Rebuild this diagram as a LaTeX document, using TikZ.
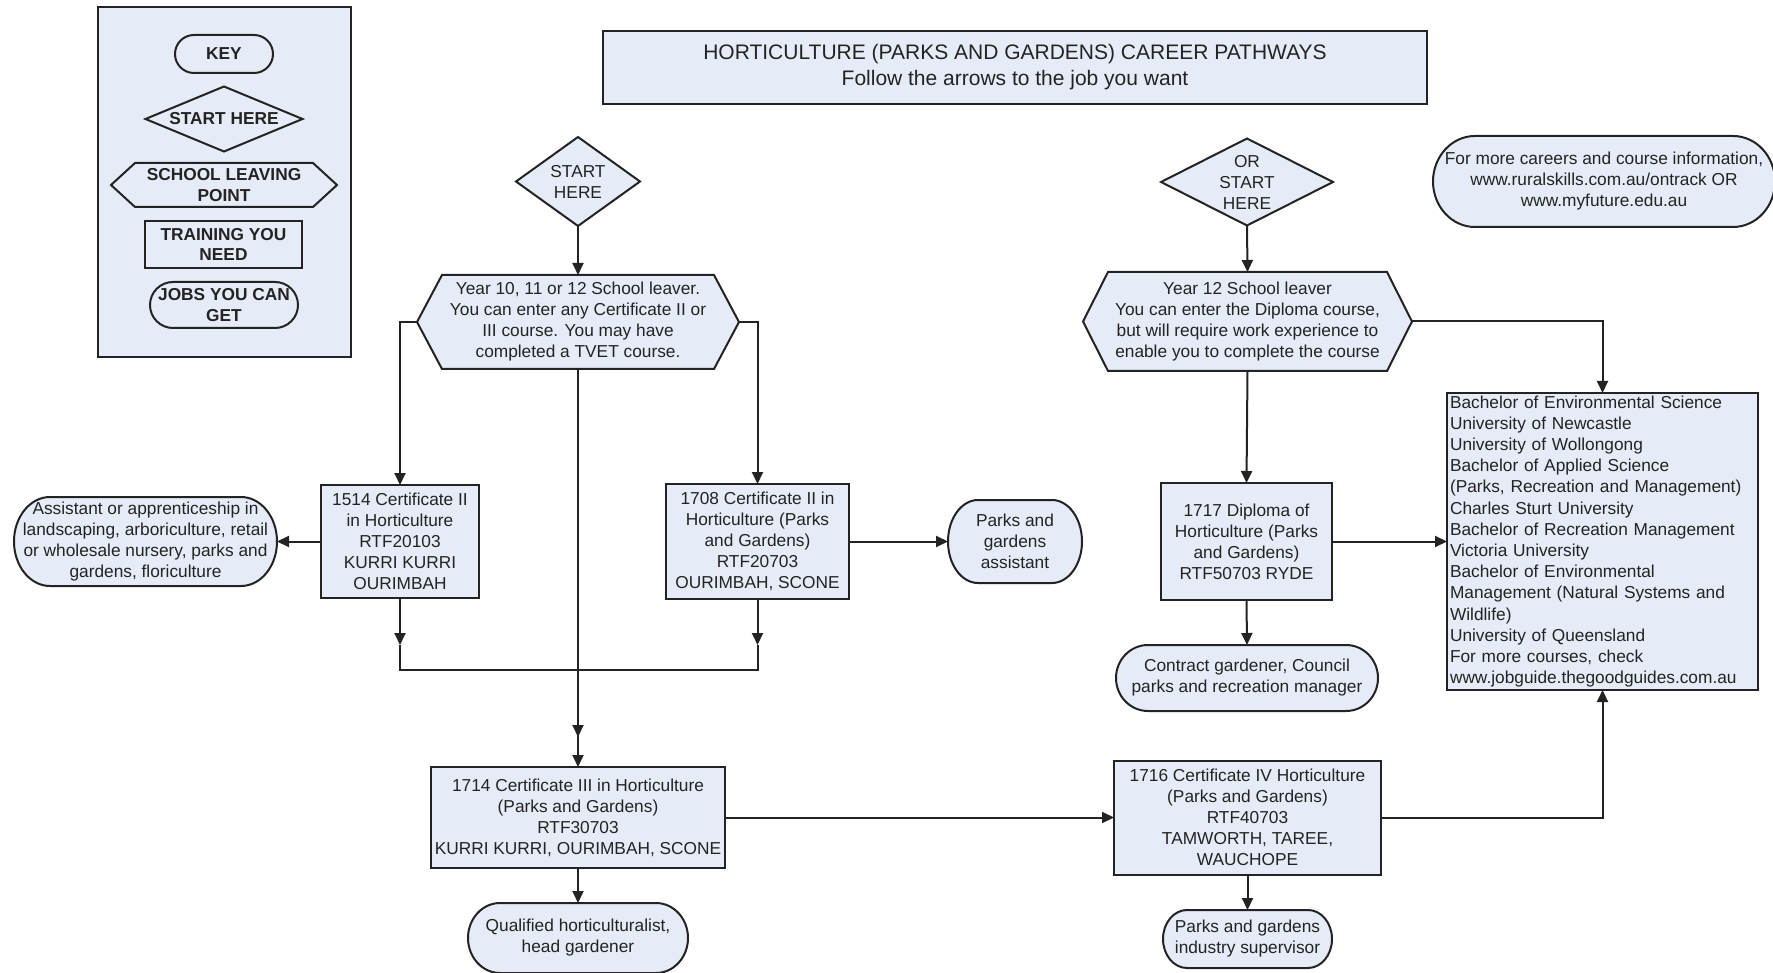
\documentclass[tikz,border=0pt]{standalone}
\usepackage{fontspec}
\setmainfont{Liberation Sans}
\usetikzlibrary{arrows.meta,backgrounds,calc}
\definecolor{boxfill}{RGB}{229,236,247}
\definecolor{ink}{RGB}{35,35,35}
\newcommand\rectshape[1]{\path[shapeline] (#1.north west) rectangle (#1.south east);}
\newcommand\hexshape[2]{\path[shapeline] ([xshift=#2]#1.north west) -- ([xshift=-#2]#1.north east) -- (#1.east) -- ([xshift=-#2]#1.south east) -- ([xshift=#2]#1.south west) -- (#1.west) -- cycle;}
\newcommand\diashape[1]{\path[shapeline] (#1.north) -- (#1.east) -- (#1.south) -- (#1.west) -- cycle;}
\newcommand\termshape[3]{\path[shapeline] ([xshift=#2]#1.north west) -- ([xshift=-#2]#1.north east) arc[start angle=90,end angle=-90,x radius=#2,y radius=#3] -- ([xshift=#2]#1.south west) arc[start angle=270,end angle=90,x radius=#2,y radius=#3] -- cycle;}
\begin{document}
\begin{tikzpicture}[x=1pt,y=-1pt,
  txt/.style={align=center, inner sep=0pt, outer sep=0pt, text=ink, font=\fontsize{17.3}{21}\selectfont},
  keytxt/.style={txt, font=\fontsize{17.3}{20.5}\selectfont\bfseries},
  shapeline/.style={fill=boxfill, draw=ink, line width=2pt, line join=miter},
  conn/.style={draw=ink, line width=2pt},
  arr/.style={conn, -{Triangle[length=12pt,width=11pt]}}
]
\useasboundingbox (0,0) rectangle (1773,973);

% key
\node[txt, minimum width=253, minimum height=350] (keybox) at (224.5,182) {};
\node[keytxt, minimum width=98, minimum height=38] (key) at (224,54) {KEY};
\node[keytxt, minimum width=157, minimum height=65] (keystart) at (224,119) {START HERE};
\node[keytxt, minimum width=226, minimum height=44] (keyschool) at (224,185) {SCHOOL LEAVING\\POINT};
\node[keytxt, minimum width=157, minimum height=47] (keytrain) at (223.5,244.5) {TRAINING YOU\\NEED};
\node[keytxt, minimum width=148, minimum height=46] (keyjobs) at (224,305) {JOBS YOU CAN\\GET};

% title
\node[txt, font=\fontsize{21}{26}\selectfont, minimum width=824, minimum height=73] (title) at (1015,67.5) {HORTICULTURE (PARKS AND GARDENS) CAREER PATHWAYS\\Follow the arrows to the job you want};

% left pathway
\node[txt, minimum width=124, minimum height=89] (start1) at (578,181.5) {START\\HERE};
\node[txt, minimum width=322, minimum height=94] (hex1) at (578,322) {Year 10, 11 or 12 School leaver.\\You can enter any Certificate II or\\III course. You may have\\completed a TVET course.};
\node[txt, minimum width=158, minimum height=113] (c1514) at (400,541.5) {1514 Certificate II\\in Horticulture\\RTF20103\\KURRI KURRI\\OURIMBAH};
\node[txt, minimum width=183, minimum height=115] (c1708) at (757.5,541.5) {1708 Certificate II in\\Horticulture (Parks\\and Gardens)\\RTF20703\\OURIMBAH, SCONE};
\node[txt, minimum width=263, minimum height=89] (assist) at (145.5,541.5) {Assistant or apprenticeship in\\landscaping, arboriculture, retail\\or wholesale nursery, parks and\\gardens, floriculture};
\node[txt, minimum width=134, minimum height=83] (pga) at (1015,541.5) {Parks and\\gardens\\assistant};
\node[txt, minimum width=294, minimum height=101] (c1714) at (578,817.5) {1714 Certificate III in Horticulture\\(Parks and Gardens)\\RTF30703\\KURRI KURRI, OURIMBAH, SCONE};
\node[txt, minimum width=220, minimum height=70] (qual) at (578,938) {Qualified horticulturalist,\\head gardener};
\node[txt, minimum width=267, minimum height=114] (c1716) at (1247.5,817.5) {1716 Certificate IV Horticulture\\(Parks and Gardens)\\RTF40703\\TAMWORTH, TAREE,\\WAUCHOPE};
\node[txt, minimum width=169, minimum height=58] (pgis) at (1247.5,939) {Parks and gardens\\industry supervisor};

% right pathway
\node[txt, minimum width=172, minimum height=87] (start2) at (1247,182) {OR\\START\\HERE};
\node[txt, minimum width=329, minimum height=99] (hex2) at (1247.5,321.5) {Year 12 School leaver\\You can enter the Diploma course,\\but will require work experience to\\enable you to complete the course};
\node[txt, minimum width=171, minimum height=117] (c1717) at (1246.5,541.5) {1717 Diploma of\\Horticulture (Parks\\and Gardens)\\RTF50703 RYDE};
\node[txt, minimum width=262, minimum height=66] (contract) at (1247,678) {Contract gardener, Council\\parks and recreation manager};
\node[txt, align=left, text width=305pt, inner xsep=3pt, minimum height=297, font=\fontsize{17.3}{21.2}\selectfont] (bach) at (1602.5,541.5) {Bachelor of Environmental Science\\University of Newcastle\\University of Wollongong\\Bachelor of Applied Science\\(Parks, Recreation and Management)\\Charles Sturt University\\Bachelor of Recreation Management\\Victoria University\\Bachelor of Environmental\\Management (Natural Systems and\\Wildlife)\\University of Queensland\\For more courses, check\\www.jobguide.thegoodguides.com.au};
\node[txt, minimum width=342, minimum height=91] (more) at (1604,181.5) {For more careers and course information,\\www.ruralskills.com.au/ontrack OR\\www.myfuture.edu.au};

\begin{pgfonlayer}{background}
\rectshape{keybox}
\termshape{key}{19pt}{19pt}
\diashape{keystart}
\hexshape{keyschool}{24pt}
\rectshape{keytrain}
\termshape{keyjobs}{23pt}{23pt}
\rectshape{title}
\diashape{start1}
\hexshape{hex1}{25pt}
\rectshape{c1514}
\rectshape{c1708}
\termshape{assist}{36pt}{44.5pt}
\termshape{pga}{30pt}{41.5pt}
\rectshape{c1714}
\termshape{qual}{32pt}{35pt}
\rectshape{c1716}
\termshape{pgis}{24pt}{29pt}
\diashape{start2}
\hexshape{hex2}{25pt}
\rectshape{c1717}
\termshape{contract}{32pt}{33pt}
\rectshape{bach}
\termshape{more}{42pt}{45.5pt}
\end{pgfonlayer}

% connectors
\coordinate (tipL) at (400,645);
\coordinate (tipR) at (757.5,645);
\coordinate (mL) at (400,670);
\coordinate (mR) at (757.5,670);
\coordinate (mC) at (578,670);
\coordinate (mTip) at (578,737);

\draw[arr] (start1.south) -- (hex1.north);
\draw[arr] (hex1.west) -| (c1514.north);
\draw[arr] (hex1.east) -| (c1708.north);
\draw[arr] (hex1.south) -- (c1714.north);
\draw[arr] (c1514.west) -- (assist.east);
\draw[arr] (c1708.east) -- (pga.west);
\draw[arr] (c1514.south) -- (tipL);
\draw[arr] (c1708.south) -- (tipR);
\draw[conn] (tipL) -- (mL) -- (mR) -- (tipR);
\draw[arr] (mC) -- (mTip);
\draw[arr] (c1714.east) -- (c1716.west);
\draw[arr] (c1714.south) -- (qual.north);
\draw[arr] (c1716.south) -- (pgis.north);
\draw[arr] (c1716.east) -| (bach.south);
\draw[arr] (start2.south) -- (hex2.north);
\draw[arr] (hex2.south) -- (c1717.north);
\draw[arr] (hex2.east) -| (bach.north);
\draw[arr] (c1717.east) -- (bach.west);
\draw[arr] (c1717.south) -- (contract.north);
\end{tikzpicture}
\end{document}
